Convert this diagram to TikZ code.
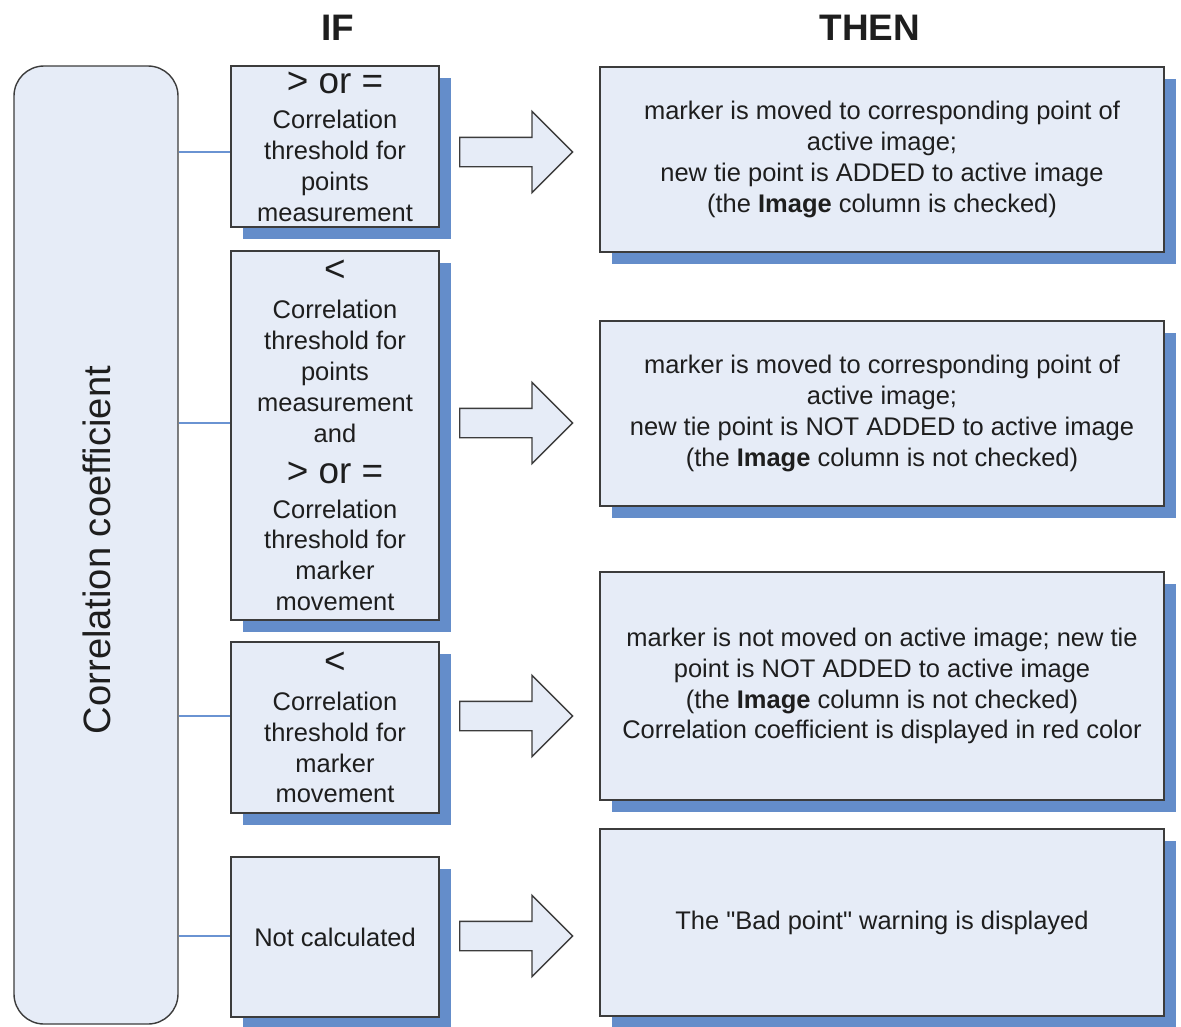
\documentclass[tikz,border=0pt]{standalone}
\usepackage{fontspec}
\setmainfont{Liberation Sans}[Ligatures=TeXOff]
\usetikzlibrary{positioning, shapes.arrows, shadows}
\definecolor{cfill}{HTML}{E6ECF7}
\definecolor{cshade}{HTML}{648DCA}
\definecolor{cline}{HTML}{6A93D2}
\definecolor{cedge}{HTML}{3C3C3C}
\definecolor{ctext}{HTML}{1E1E1E}
\newcommand{\bigsym}[1]{{\fontsize{21}{24}\selectfont #1}}
\tikzset{
  every picture/.style={font=\fontsize{14.5}{17.6}\selectfont, line width=0.8pt},
  box/.style={draw=cedge, fill=cfill, text=ctext, align=center, inner sep=0pt,
    drop shadow={shadow xshift=0.24cm, shadow yshift=-0.24cm, fill=cshade, opacity=1}},
  ifbox/.style={box, minimum width=4.16cm},
  thenbox/.style={box, minimum width=11.28cm},
  bigarrow/.style={single arrow, draw=cedge, fill=cfill, anchor=tail, inner xsep=0pt, inner ysep=0.28cm,
    minimum height=2.26cm, minimum width=1.6cm, single arrow head extend=0.52cm},
  link/.style={draw=cline, line width=0.8pt},
  head/.style={font=\fontsize{21}{24}\selectfont\bfseries, text=ctext},
}

\begin{document}
\begin{tikzpicture}
  \useasboundingbox (0,0) rectangle (23.62,-20.52);
  \node[head] (hif) at (6.76,-0.56) {IF};
  \node[head] (hthen) at (17.4,-0.56) {THEN};
  \node[draw=cedge, fill=cfill, rounded corners=0.6cm, minimum width=3.28cm, minimum height=19.16cm] (coef) at (1.92,-10.9) {};
  \node[rotate=90, text=ctext, font=\fontsize{21.7}{26}\selectfont] (coeflabel) at (1.94,-11.0) {Correlation coefficient};
  % conditions
  \node[ifbox, minimum height=3.22cm] (if1) at (6.70,-2.93)
    {\bigsym{> or =}\\[2.3pt]Correlation\\threshold for\\points\\measurement};
  \node[ifbox, minimum height=7.38cm] (if2) at (6.70,-8.71)
    {\bigsym{<}\\[3.4pt]Correlation\\threshold for\\points\\measurement\\and\\[5.7pt]\bigsym{> or =}\\[2.3pt]Correlation\\threshold for\\marker\\movement};
  \node[ifbox, minimum height=3.42cm] (if3) at (6.70,-14.55)
    {\bigsym{<}\\[3.4pt]Correlation\\threshold for\\marker\\movement};
  \node[ifbox, minimum height=3.2cm] (if4) at (6.70,-18.74) {Not calculated};
  % results
  \node[thenbox, minimum height=3.7cm] (then1) at (17.64,-3.19)
    {marker is moved to corresponding point of\\active image;\\new tie point is ADDED to active image\\(the \textbf{Image} column is checked)};
  \node[thenbox, minimum height=3.7cm] (then2) at (17.64,-8.27)
    {marker is moved to corresponding point of\\active image;\\new tie point is NOT ADDED to active image\\(the \textbf{Image} column is not checked)};
  \node[thenbox, minimum height=4.56cm] (then3) at (17.64,-13.72)
    {marker is not moved on active image; new tie\\point is NOT ADDED to active image\\(the \textbf{Image} column is not checked)\\Correlation coefficient is displayed in red color};
  \node[thenbox, minimum height=3.74cm] (then4) at (17.64,-18.45) {The "Bad point" warning is displayed};
  \foreach \n/\y [count=\i] in {if1/-3.04, if2/-8.46, if3/-14.32, if4/-18.72} {
    \draw[link] (coef.east |- 0,\y) -- (\n.west |- 0,\y);
    \node[bigarrow] (arr\i) at (9.18,\y) {};
  }
\end{tikzpicture}
\end{document}
